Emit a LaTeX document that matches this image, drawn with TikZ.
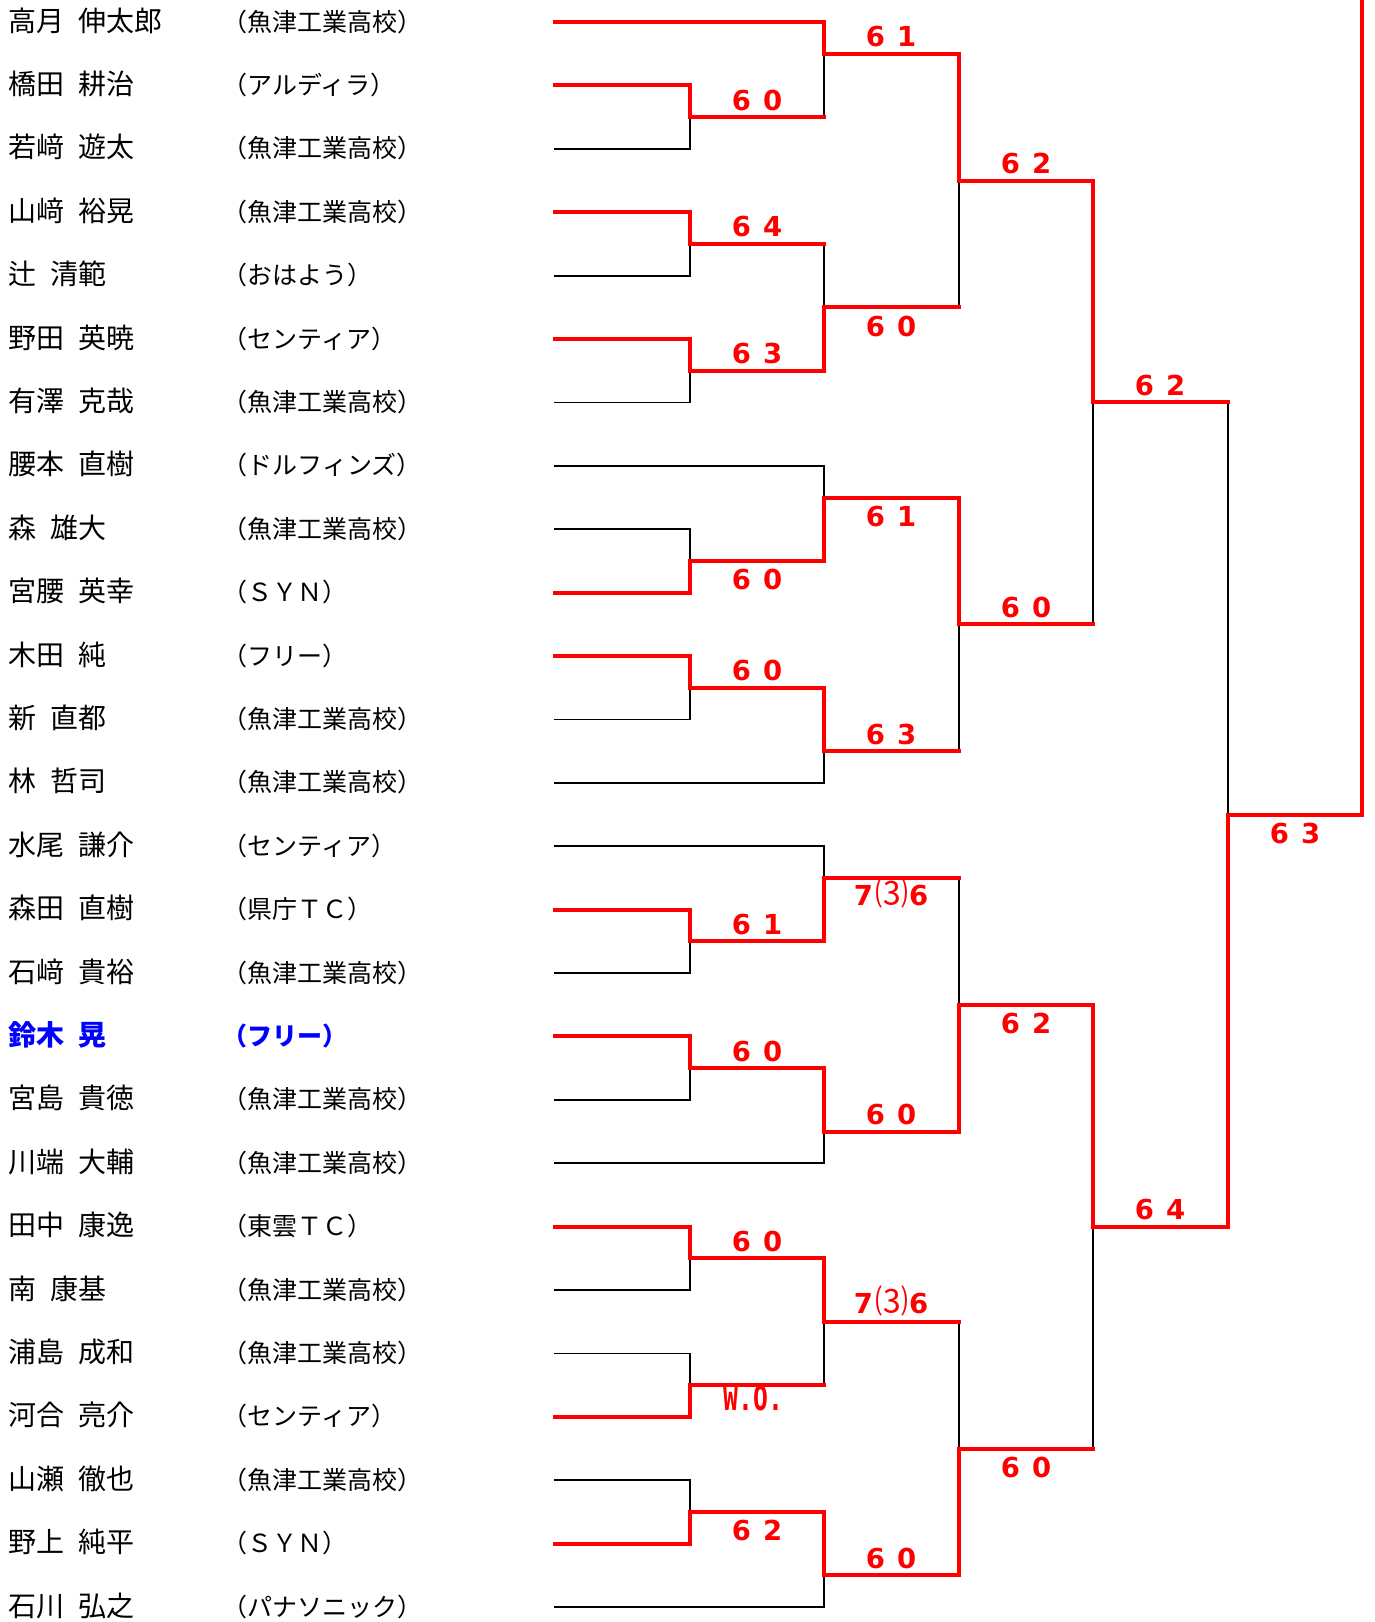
\documentclass[tikz,border=0pt]{standalone}
\usepackage{fontspec}
\setmainfont{Noto Sans CJK JP}
\newfontfamily\jpp{Noto Sans CJK JP}[RawFeature={+palt}]
\newfontfamily\jpn{Noto Sans CJK JP}
\newfontfamily\djsans{DejaVu Sans}
\newfontfamily\djmono{DejaVu Sans Mono}
\usetikzlibrary{calc}
\pgfdeclarelayer{bg}
\pgfsetlayers{bg,main}
\newcommand\gp{\hspace{13.4pt}}
\newcommand\lp{{\jpp （}\hspace{1pt}}
\newcommand\rp{\hspace{1pt}{\jpp ）}}
\newcommand\sco[2]{#1\hspace{12pt}#2}
\newcommand\tbk{7\hspace{2pt}{\jpn\mdseries\fontsize{33}{33}\selectfont ⑶}\hspace{1pt}6}
\newcommand\went[2]{\draw[wl] (#1) -- (#1 -| #2) -- (#2);}
\newcommand\lent[2]{\begin{pgfonlayer}{bg}\draw[ll] (#1) -- (#1 -| #2) -- (#2);\end{pgfonlayer}}
\newcommand\hent[2]{\draw[wl] (#1) -- (#1 -| #2);\begin{pgfonlayer}{bg}\draw[ll] (#1 -| #2) -- (#2);\end{pgfonlayer}}
\definecolor{wred}{RGB}{255,0,0}
\definecolor{wblue}{RGB}{0,0,255}
\begin{document}
\begin{tikzpicture}[x=1pt,y=-1pt,
  wl/.style={wred,line width=4pt,line cap=rect,line join=miter},
  ll/.style={black,line width=1.8pt,line cap=rect},
  nmstyle/.style={anchor=base west,inner sep=0pt,font=\jpn\fontsize{28}{30}\selectfont},
  tmstyle/.style={anchor=base west,inner sep=0pt,font=\jpn\fontsize{25}{28}\selectfont},
  scstyle/.style={anchor=base,inner sep=0pt,text=wred,font=\djsans\bfseries\fontsize{27.5}{30}\selectfont},
]
\useasboundingbox (0,0) rectangle (1375,1622);
\begin{pgfonlayer}{bg}
\fill[white] (0,0) rectangle (1375,1622);
\end{pgfonlayer}
% player line starts
\foreach \i in {0,...,25} {\coordinate (p\i) at (555,22+63.4*\i);}
% names and teams
\foreach \i/\pname/\pteam in {
 0/高月\gp 伸太郎/魚津工業高校,
 1/橋田\gp 耕治/アルディラ,
 2/若﨑\gp 遊太/魚津工業高校,
 3/山﨑\gp 裕晃/魚津工業高校,
 4/辻\gp 清範/おはよう,
 5/野田\gp 英暁/センティア,
 6/有澤\gp 克哉/魚津工業高校,
 7/腰本\gp 直樹/ドルフィンズ,
 8/森\gp 雄大/魚津工業高校,
 9/宮腰\gp 英幸/ＳＹＮ,
 10/木田\gp 純/フリー,
 11/新\gp 直都/魚津工業高校,
 12/林\gp 哲司/魚津工業高校,
 13/水尾\gp 謙介/センティア,
 14/森田\gp 直樹/県庁ＴＣ,
 15/石﨑\gp 貴裕/魚津工業高校,
 17/宮島\gp 貴徳/魚津工業高校,
 18/川端\gp 大輔/魚津工業高校,
 19/田中\gp 康逸/東雲ＴＣ,
 20/南\gp 康基/魚津工業高校,
 21/浦島\gp 成和/魚津工業高校,
 22/河合\gp 亮介/センティア,
 23/山瀬\gp 徹也/魚津工業高校,
 24/野上\gp 純平/ＳＹＮ,
 25/石川\gp 弘之/パナソニック} {
  \node[nmstyle] (n\i) at (8.6,31+63.4*\i) {\pname};
  \node[tmstyle] (t\i) at (234,31+63.4*\i) {\lp\pteam\rp};
}
\node[nmstyle,text=wblue,font=\jpn\bfseries\fontsize{28}{30}\selectfont] (n16) at (8.6,31+63.4*16) {鈴木\gp 晃};
\node[tmstyle,text=wblue,font=\jpn\bfseries\fontsize{25}{28}\selectfont] (t16) at (234,31+63.4*16) {\lp フリー\rp};
% match points
\coordinate (a1) at (690,117.1);
\coordinate (a2) at (690,243.9);
\coordinate (a3) at (690,370.7);
\coordinate (a4) at (690,560.9);
\coordinate (a5) at (690,687.7);
\coordinate (a6) at (690,941.3);
\coordinate (a7) at (690,1068.1);
\coordinate (a8) at (690,1258.3);
\coordinate (a9) at (690,1385.1);
\coordinate (a10) at (690,1511.9);
\coordinate (b1) at (824,53.7);
\coordinate (b2) at (824,307.3);
\coordinate (b3) at (824,497.5);
\coordinate (b4) at (824,751.1);
\coordinate (b5) at (824,877.9);
\coordinate (b6) at (824,1131.5);
\coordinate (b7) at (824,1321.7);
\coordinate (b8) at (824,1575.3);
\coordinate (c1) at (959,180.5);
\coordinate (c2) at (959,624.3);
\coordinate (c3) at (959,1004.7);
\coordinate (c4) at (959,1448.5);
\coordinate (d1) at (1093,402.4);
\coordinate (d2) at (1093,1226.6);
\coordinate (e1) at (1228,814.5);
\coordinate (top) at (1362,-4);
% losers (black)
\lent{p2}{a1} \lent{p4}{a2} \lent{p6}{a3} \lent{p7}{b3} \lent{p8}{a4}
\lent{p11}{a5} \lent{p12}{b4} \lent{p13}{b5} \lent{p15}{a6} \lent{p17}{a7}
\lent{p18}{b6} \lent{p20}{a8} \lent{p21}{a9} \lent{p23}{a10} \lent{p25}{b8}
\hent{a1}{b1} \hent{a2}{b2} \hent{a9}{b7}
\hent{b2}{c1} \hent{b4}{c2} \hent{b5}{c3} \hent{b7}{c4}
\hent{c2}{d1} \hent{c4}{d2} \hent{d1}{e1}
% winners (red)
\went{p0}{b1} \went{p1}{a1} \went{p3}{a2} \went{p5}{a3} \went{p9}{a4}
\went{p10}{a5} \went{p14}{a6} \went{p16}{a7} \went{p19}{a8} \went{p22}{a9}
\went{p24}{a10}
\went{a3}{b2} \went{a4}{b3} \went{a5}{b4} \went{a6}{b5} \went{a7}{b6}
\went{a8}{b7} \went{a10}{b8}
\went{b1}{c1} \went{b3}{c2} \went{b6}{c3} \went{b8}{c4}
\went{c1}{d1} \went{c3}{d2} \went{d2}{e1} \went{e1}{top}
% scores
\node[scstyle] (sa1) at ([shift={(67,-7)}]a1) {\sco60};
\node[scstyle] (sa2) at ([shift={(67,-7)}]a2) {\sco64};
\node[scstyle] (sa3) at ([shift={(67,-7)}]a3) {\sco63};
\node[scstyle] (sa4) at ([shift={(67,29)}]a4) {\sco60};
\node[scstyle] (sa5) at ([shift={(67,-7)}]a5) {\sco60};
\node[scstyle] (sa6) at ([shift={(67,-7)}]a6) {\sco61};
\node[scstyle] (sa7) at ([shift={(67,-7)}]a7) {\sco60};
\node[scstyle] (sa8) at ([shift={(67,-7)}]a8) {\sco60};
\node[scstyle,font=\djmono\bfseries\fontsize{26}{30}\selectfont] (sa9) at ([shift={(63.5,25)}]a9) {\scalebox{0.95}[1.3]{W.O.}};
\node[scstyle] (sa10) at ([shift={(67,29)}]a10) {\sco62};
\node[scstyle] (sb1) at ([shift={(67,-7)}]b1) {\sco61};
\node[scstyle] (sb2) at ([shift={(67,29)}]b2) {\sco60};
\node[scstyle] (sb3) at ([shift={(67,29)}]b3) {\sco61};
\node[scstyle] (sb4) at ([shift={(67,-7)}]b4) {\sco63};
\node[scstyle] (sb5) at ([shift={(67,28)}]b5) {\tbk};
\node[scstyle] (sb6) at ([shift={(67,-7)}]b6) {\sco60};
\node[scstyle] (sb7) at ([shift={(67,-8)}]b7) {\tbk};
\node[scstyle] (sb8) at ([shift={(67,-7)}]b8) {\sco60};
\node[scstyle] (sc1) at ([shift={(67,-7)}]c1) {\sco62};
\node[scstyle] (sc2) at ([shift={(67,-7)}]c2) {\sco60};
\node[scstyle] (sc3) at ([shift={(67,29)}]c3) {\sco62};
\node[scstyle] (sc4) at ([shift={(67,29)}]c4) {\sco60};
\node[scstyle] (sd1) at ([shift={(67,-7)}]d1) {\sco62};
\node[scstyle] (sd2) at ([shift={(67,-7)}]d2) {\sco64};
\node[scstyle] (se1) at ([shift={(67,29)}]e1) {\sco63};
\end{tikzpicture}
\end{document}
